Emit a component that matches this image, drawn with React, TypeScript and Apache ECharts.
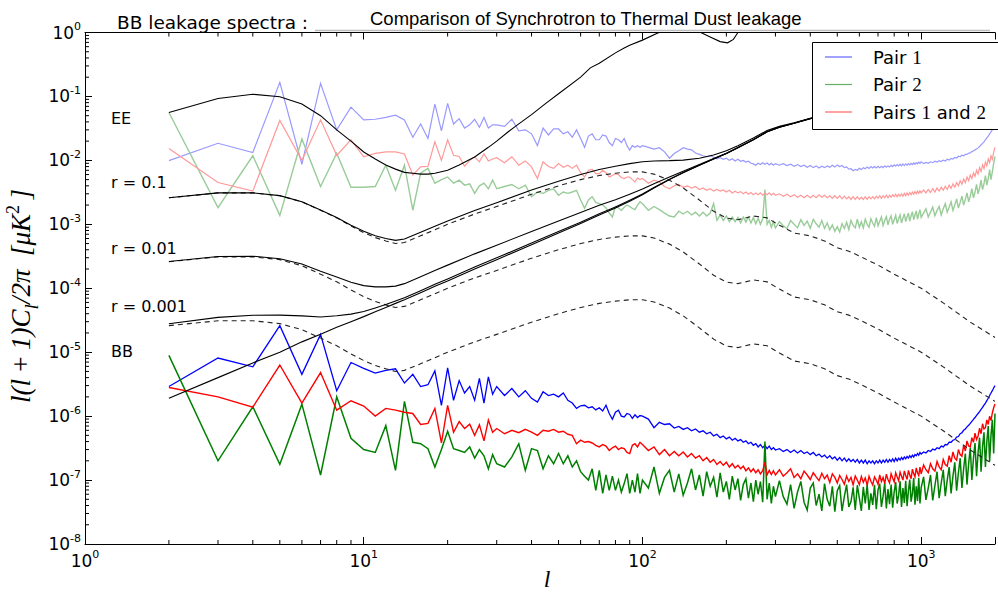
import React, { useEffect, useRef } from 'react';
import * as echarts from 'echarts';

// ---------- shared multipole grid for the measured leakage spectra ----------
const ells = [
  2,3,4,5,6,7,8,9,10,11,12,13,14,15,16,17,18,19,20,21,22,23,24,25,26,27,28,29,30,
  32,34,36,38,40,42,44,46,48,50,52,54,56,58,60,62,64,66,68,70,72,74,76,78,80,82,84,86,88,90,92,94,96,98,100,
  105,110,115,120,125,130,135,140,145,150,155,160,165,170,175,180,185,190,195,200,
  205,210,215,220,225,230,235,240,245,250,255,260,265,270,275,280,285,290,295,300,
  310,320,330,340,350,360,370,380,390,400,410,420,430,440,450,460,470,480,490,500,
  510,520,530,540,550,560,570,580,590,600,610,620,630,640,650,660,670,680,690,700,
  710,720,730,740,750,760,770,780,790,800,810,820,830,840,850,860,870,880,890,900,
  910,920,930,940,950,960,970,980,990,1000,
  1020,1040,1060,1080,1100,1120,1140,1160,1180,1200,1220,1240,1260,1280,1300,1320,1340,1360,1380,1400,
  1420,1440,1460,1480,1500,1520,1540,1560,1580,1600,1620,1640,1660,1680,1700,1720,1740,1760,1780,1800,1820,1840,
];

// BB leakage, Pair 1 (blue)
const bbPair1 = [
  2.9e-6,8.1e-6,5.9e-6,2.6e-5,4.5e-6,1.9e-5,2.5e-6,6.9e-6,5.6e-6,4.7e-6,5.2e-6,5.5e-6,3.3e-6,4.5e-6,2.9e-6,3.1e-6,5.1e-6,1.47e-6,5.7e-6,1.77e-6,3.6e-6,2.3e-6,2.9e-6,1.77e-6,3.9e-6,1.6e-6,4.1e-6,2.2e-6,2.9e-6,
  2.1e-6,2.7e-6,2.0e-6,2.5e-6,1.9e-6,1.66e-6,2.4e-6,2.1e-6,2.2e-6,2.0e-6,2.3e-6,1.77e-6,1.6e-6,1.32e-6,1.45e-6,1.48e-6,1.35e-6,1.4e-6,1.25e-6,1.35e-6,1.2e-6,1.48e-6,1.1e-6,8.9e-7,1.15e-6,1.24e-6,1.0e-6,9.7e-7,1.1e-6,1.06e-6,9.2e-7,1.05e-6,9.5e-7,1.02e-6,1.0e-6,
  9.0e-7,6.6e-7,8.0e-7,7.4e-7,7.6e-7,6.5e-7,6.9e-7,6.2e-7,6.6e-7,5.9e-7,6.3e-7,5.6e-7,5.9e-7,5.3e-7,5.6e-7,4.9e-7,5.2e-7,4.6e-7,4.9e-7,4.4e-7,
  4.7e-7,4.2e-7,4.5e-7,4.1e-7,4.3e-7,3.9e-7,4.1e-7,3.7e-7,3.9e-7,3.5e-7,3.7e-7,3.3e-7,3.6e-7,3.2e-7,3.5e-7,3.1e-7,3.4e-7,3.0e-7,3.2e-7,2.95e-7,
  3.1e-7,2.8e-7,3.0e-7,2.7e-7,2.95e-7,2.65e-7,2.9e-7,2.6e-7,2.75e-7,2.5e-7,2.7e-7,2.4e-7,2.55e-7,2.3e-7,2.45e-7,2.2e-7,2.4e-7,2.15e-7,2.3e-7,2.05e-7,
  2.25e-7,2.0e-7,2.2e-7,1.95e-7,2.15e-7,1.95e-7,2.1e-7,1.9e-7,2.1e-7,1.85e-7,2.05e-7,1.85e-7,2.05e-7,1.8e-7,2.0e-7,1.85e-7,2.0e-7,1.8e-7,2.0e-7,1.85e-7,
  2.05e-7,1.85e-7,2.05e-7,1.9e-7,2.1e-7,1.9e-7,2.1e-7,1.95e-7,2.15e-7,1.95e-7,2.2e-7,2.0e-7,2.2e-7,2.05e-7,2.25e-7,2.1e-7,2.3e-7,2.15e-7,2.35e-7,2.2e-7,
  2.4e-7,2.25e-7,2.45e-7,2.3e-7,2.5e-7,2.4e-7,2.6e-7,2.45e-7,2.7e-7,2.55e-7,
  2.75e-7,2.65e-7,2.9e-7,2.8e-7,3.05e-7,2.95e-7,3.2e-7,3.1e-7,3.4e-7,3.3e-7,3.6e-7,3.55e-7,3.9e-7,3.9e-7,4.2e-7,4.3e-7,4.7e-7,4.8e-7,5.3e-7,5.5e-7,
  6.0e-7,6.3e-7,6.8e-7,7.2e-7,7.7e-7,8.3e-7,8.9e-7,9.5e-7,1.03e-6,1.1e-6,1.18e-6,1.28e-6,1.37e-6,1.48e-6,1.6e-6,1.75e-6,1.9e-6,2.1e-6,2.3e-6,2.5e-6,2.75e-6,3.0e-6,
];

// BB leakage, Pair 2 (green)
const bbPair2 = [
  8.9e-6,2.0e-7,1.4e-6,1.77e-7,1.54e-6,1.2e-7,2.0e-6,4.5e-7,3.0e-7,2.7e-7,7.1e-7,1.42e-7,1.7e-6,3.9e-7,3.7e-7,3.1e-7,1.6e-7,3.0e-7,5.8e-7,3.1e-7,2.9e-7,2.7e-7,3.3e-7,2.2e-7,3.0e-7,2.4e-7,1.5e-7,2.5e-7,1.8e-7,
  1.6e-7,2.3e-7,3.7e-7,1.42e-7,3.1e-7,2.9e-7,1.5e-7,2.4e-7,1.8e-7,2.6e-7,1.8e-7,2.4e-7,1.6e-7,2.0e-7,1.35e-7,1.15e-7,1.0e-7,1.5e-7,6.9e-8,1.42e-7,6.2e-8,1.2e-7,6.9e-8,1.15e-7,6.9e-8,1.0e-7,6.5e-8,8.8e-8,1.26e-7,6.2e-8,1.0e-7,6.5e-8,1.26e-7,6.2e-8,1.0e-7,
  7.5e-8,1.6e-7,6.2e-8,1.1e-7,1.42e-7,6.5e-8,1.25e-7,5.8e-8,9.0e-8,1.5e-7,7.0e-8,1.2e-7,5.6e-8,1.35e-7,8.0e-8,1.1e-7,5.4e-8,1.3e-7,6.5e-8,9.5e-8,
  5.0e-8,1.15e-7,7.0e-8,1.05e-7,4.8e-8,8.5e-8,1.05e-7,5.2e-8,9.0e-8,4.6e-8,1.0e-7,6.0e-8,9.5e-8,4.5e-8,4.0e-7,5.0e-8,9.0e-8,4.3e-8,8.0e-8,5.5e-8,
  9.8e-8,5.5e-8,4.2e-8,8.5e-8,3.6e-8,6.5e-8,9.5e-8,4.5e-8,3.4e-8,7.5e-8,9.0e-8,4.0e-8,6.0e-8,3.3e-8,8.8e-8,5.0e-8,3.9e-8,8.0e-8,3.2e-8,6.8e-8,
  8.2e-8,3.3e-8,5.5e-8,8.5e-8,3.8e-8,4.6e-8,7.7e-8,3.4e-8,8.3e-8,5.2e-8,3.3e-8,7.8e-8,4.3e-8,8.6e-8,3.4e-8,6.2e-8,4.1e-8,8.4e-8,3.5e-8,7.0e-8,
  8.8e-8,3.8e-8,5.6e-8,9.0e-8,3.6e-8,7.2e-8,4.2e-8,8.5e-8,3.7e-8,6.5e-8,9.3e-8,4.3e-8,5.8e-8,9.6e-8,3.8e-8,7.5e-8,4.4e-8,9.7e-8,3.9e-8,6.8e-8,
  1.02e-7,4.6e-8,6.2e-8,1.08e-7,4.1e-8,8.0e-8,4.7e-8,1.08e-7,4.3e-8,7.6e-8,
  1.12e-7,4.9e-8,7.5e-8,1.2e-7,4.8e-8,8.2e-8,1.35e-7,5.2e-8,9.0e-8,1.45e-7,5.6e-8,1.0e-7,1.6e-7,6.2e-8,1.15e-7,1.9e-7,6.8e-8,1.3e-7,2.2e-7,7.5e-8,
  1.5e-7,2.6e-7,8.5e-8,1.8e-7,3.2e-7,1.0e-7,2.2e-7,3.8e-7,1.15e-7,2.7e-7,4.6e-7,1.35e-7,3.3e-7,5.6e-7,1.6e-7,4.0e-7,7.0e-7,1.95e-7,5.0e-7,8.8e-7,2.6e-7,1.1e-6,
];

// BB leakage, Pairs 1 and 2 (red)
const bbPairs12 = [
  2.8e-6,2.0e-6,1.38e-6,6.3e-6,1.6e-6,4.8e-6,1.24e-6,1.74e-6,1.44e-6,1.0e-6,1.32e-6,1.24e-6,1.15e-6,1.1e-6,7.4e-7,7.7e-7,1.32e-6,3.8e-7,1.47e-6,5.6e-7,8.2e-7,6.4e-7,7.5e-7,5.0e-7,7.3e-7,4.1e-7,8.7e-7,5.6e-7,6.4e-7,
  5.3e-7,6.0e-7,5.5e-7,6.2e-7,5.6e-7,5.0e-7,6.0e-7,5.8e-7,6.2e-7,5.6e-7,5.8e-7,5.2e-7,5.0e-7,3.7e-7,4.2e-7,3.9e-7,4.0e-7,3.8e-7,3.5e-7,3.3e-7,3.6e-7,3.4e-7,2.9e-7,3.2e-7,3.4e-7,3.0e-7,3.2e-7,3.1e-7,2.7e-7,2.6e-7,3.5e-7,3.7e-7,3.3e-7,3.9e-7,3.6e-7,
  2.9e-7,3.3e-7,2.5e-7,3.0e-7,2.4e-7,2.8e-7,2.4e-7,2.75e-7,2.3e-7,2.6e-7,2.2e-7,2.4e-7,2.0e-7,2.25e-7,1.9e-7,2.1e-7,1.75e-7,1.95e-7,1.7e-7,1.9e-7,
  1.6e-7,1.8e-7,1.55e-7,1.7e-7,1.5e-7,1.65e-7,1.4e-7,1.55e-7,1.35e-7,1.5e-7,1.3e-7,1.45e-7,1.25e-7,1.4e-7,1.9e-7,1.2e-7,1.42e-7,1.22e-7,1.4e-7,1.2e-7,
  1.45e-7,1.15e-7,1.3e-7,1.5e-7,1.1e-7,1.25e-7,1.05e-7,1.38e-7,1.2e-7,1.02e-7,1.3e-7,1.12e-7,9.8e-8,1.28e-7,1.05e-7,1.2e-7,9.2e-8,1.25e-7,1.1e-7,9.0e-8,
  1.18e-7,1.02e-7,8.6e-8,1.15e-7,9.5e-8,1.1e-7,8.4e-8,1.16e-7,1.0e-7,8.5e-8,1.14e-7,9.2e-8,1.08e-7,8.3e-8,1.15e-7,9.6e-8,8.4e-8,1.12e-7,1.0e-7,8.6e-8,
  1.2e-7,9.5e-8,1.1e-7,8.8e-8,1.24e-7,1.02e-7,9.0e-8,1.26e-7,1.08e-7,9.4e-8,1.3e-7,1.12e-7,9.8e-8,1.33e-7,1.15e-7,1.0e-7,1.39e-7,1.18e-7,1.02e-7,1.42e-7,
  1.2e-7,1.05e-7,1.48e-7,1.25e-7,1.12e-7,1.55e-7,1.3e-7,1.18e-7,1.6e-7,1.25e-7,
  1.72e-7,1.45e-7,1.3e-7,1.8e-7,1.5e-7,1.38e-7,1.95e-7,1.6e-7,1.45e-7,2.1e-7,1.75e-7,1.65e-7,2.4e-7,1.9e-7,2.75e-7,2.2e-7,2.05e-7,3.0e-7,2.5e-7,2.35e-7,
  3.5e-7,2.85e-7,4.1e-7,3.4e-7,3.3e-7,4.6e-7,3.9e-7,5.4e-7,4.3e-7,4.9e-7,6.5e-7,5.3e-7,7.6e-7,6.3e-7,6.6e-7,8.7e-7,7.4e-7,1.0e-6,8.5e-7,1.12e-6,1.35e-6,1.55e-6,
];

// EE leakage (faint), Pair 1
const eePair1 = [
  9.9e-3,1.85e-2,1.33e-2,0.166,8.7e-3,0.16,0.030,0.068,0.043,0.044,0.047,0.051,0.043,0.023,0.037,0.022,0.076,0.029,0.078,0.037,0.045,0.032,0.036,0.044,0.033,0.047,0.032,0.036,0.036,
  0.034,0.044,0.029,0.030,0.026,0.017,0.032,0.025,0.031,0.031,0.026,0.028,0.023,0.030,0.022,0.016,0.024,0.026,0.021,0.021,0.025,0.024,0.019,0.017,0.022,0.021,0.019,0.022,0.017,0.0145,0.017,0.016,0.017,0.016,0.017,
  0.016,0.015,0.0158,0.0136,0.0108,0.0128,0.0142,0.0158,0.015,0.0146,0.013,0.0124,0.0118,0.0114,0.0118,0.0112,0.0106,0.011,0.0104,0.0108,
  0.01,0.0106,0.0098,0.0104,0.0097,0.01,0.0094,0.0097,0.009,0.0088,0.0084,0.009,0.0086,0.0092,0.0087,0.0091,0.0085,0.009,0.0084,0.0089,
  0.0084,0.0089,0.0083,0.0087,0.0081,0.0086,0.0080,0.0084,0.0078,0.0083,0.0077,0.0082,0.0076,0.0081,0.0077,0.0082,0.0078,0.0084,0.0079,0.0085,
  0.0080,0.0083,0.0077,0.0079,0.0073,0.0074,0.0069,0.0072,0.0070,0.0075,0.0072,0.0077,0.0074,0.0079,0.0075,0.0080,0.0076,0.0080,0.0076,0.0081,
  0.0077,0.0081,0.0077,0.0082,0.0078,0.0082,0.0079,0.0084,0.0080,0.0085,0.0081,0.0086,0.0082,0.0087,0.0082,0.0088,0.0083,0.0088,0.0084,0.0089,
  0.0085,0.0090,0.0086,0.0091,0.0087,0.0092,0.0088,0.0094,0.0090,0.0095,
  0.0089,0.0093,0.0090,0.0095,0.0092,0.0097,0.0094,0.0099,0.0096,0.0101,0.0098,0.0104,0.0101,0.0107,0.0105,0.0111,0.0109,0.0116,0.0114,0.0121,
  0.0118,0.0124,0.0124,0.013,0.0131,0.0137,0.014,0.0146,0.015,0.0157,0.0165,0.0175,0.0185,0.0195,0.021,0.0225,0.024,0.026,0.028,0.030,0.032,0.034,
];

// EE leakage (faint), Pair 2
const eePair2 = [
  0.056,1.83e-3,0.0118,1.38e-3,0.0216,3.9e-3,0.0129,3.8e-3,3.8e-3,3.9e-3,8.4e-3,3.4e-3,8.4e-3,1.66e-3,6.3e-3,7.5e-3,4.4e-3,5.0e-3,5.5e-3,4.4e-3,4.9e-3,4.1e-3,4.3e-3,3.05e-3,4.0e-3,4.4e-3,3.6e-3,4.9e-3,3.6e-3,
  3.9e-3,4.2e-3,3.6e-3,4.1e-3,2.7e-3,3.2e-3,3.05e-3,3.4e-3,3.6e-3,2.85e-3,3.2e-3,3.05e-3,3.2e-3,3.4e-3,2.4e-3,1.78e-3,2.4e-3,2.7e-3,2.2e-3,2.1e-3,2.0e-3,1.8e-3,1.5e-3,1.3e-3,1.9e-3,1.8e-3,1.66e-3,1.85e-3,2.0e-3,1.9e-3,1.78e-3,1.7e-3,2.0e-3,2.25e-3,2.1e-3,
  1.66e-3,1.9e-3,1.7e-3,1.5e-3,1.35e-3,1.3e-3,1.6e-3,1.45e-3,1.6e-3,1.4e-3,1.55e-3,1.35e-3,1.55e-3,1.35e-3,1.5e-3,2.1e-3,1.15e-3,1.4e-3,1.15e-3,1.35e-3,
  1.1e-3,1.3e-3,1.1e-3,1.28e-3,1.05e-3,1.3e-3,1.08e-3,1.3e-3,1.05e-3,1.28e-3,1.02e-3,1.25e-3,1.0e-3,1.22e-3,3.5e-3,1.0e-3,1.15e-3,9.0e-4,1.1e-3,8.8e-4,
  1.1e-3,9.5e-4,8.6e-4,1.15e-3,1.0e-3,8.8e-4,1.18e-3,9.6e-4,1.12e-3,8.7e-4,1.2e-3,1.02e-3,9.0e-4,1.15e-3,8.6e-4,1.05e-3,8.2e-4,9.8e-4,7.8e-4,9.2e-4,
  7.6e-4,1.02e-3,8.6e-4,1.08e-3,8.3e-4,1.15e-3,9.6e-4,8.8e-4,1.2e-3,9.0e-4,1.1e-3,8.8e-4,1.2e-3,1.0e-3,9.0e-4,1.22e-3,1.05e-3,9.3e-4,1.27e-3,9.5e-4,
  1.12e-3,1.3e-3,9.6e-4,1.15e-3,1.32e-3,9.8e-4,1.2e-3,1.36e-3,1.0e-3,1.18e-3,1.38e-3,1.03e-3,1.22e-3,1.4e-3,1.05e-3,1.25e-3,1.46e-3,1.1e-3,1.3e-3,1.5e-3,
  1.12e-3,1.35e-3,1.58e-3,1.18e-3,1.4e-3,1.62e-3,1.2e-3,1.45e-3,1.7e-3,1.28e-3,
  1.5e-3,1.75e-3,1.3e-3,1.55e-3,1.85e-3,1.36e-3,1.65e-3,1.9e-3,1.4e-3,1.75e-3,2.1e-3,1.55e-3,1.85e-3,2.25e-3,1.65e-3,2.0e-3,2.5e-3,1.8e-3,2.2e-3,2.75e-3,
  2.0e-3,2.45e-3,3.1e-3,2.25e-3,2.75e-3,3.6e-3,2.6e-3,3.2e-3,4.2e-3,3.0e-3,3.7e-3,4.9e-3,3.5e-3,4.3e-3,5.8e-3,4.1e-3,5.2e-3,7.2e-3,5.0e-3,6.6e-3,9.0e-3,0.0115,
];

// EE leakage (faint), Pairs 1 and 2
const eePairs12 = [
  0.0154,4.5e-3,3.3e-3,0.042,0.010,0.043,0.012,0.021,0.0114,0.0129,0.0136,0.0136,0.0126,5.9e-3,7.9e-3,8.1e-3,0.0195,0.010,0.021,0.012,0.0115,8.1e-3,0.010,0.0114,9.5e-3,0.0126,9.8e-3,0.0105,0.011,
  9.2e-3,0.0114,8.4e-3,9.8e-3,7.9e-3,5.2e-3,9.5e-3,8.0e-3,7.5e-3,8.9e-3,7.8e-3,8.4e-3,7.5e-3,8.4e-3,6.4e-3,5.5e-3,7.0e-3,7.2e-3,6.2e-3,6.2e-3,7.0e-3,6.4e-3,5.5e-3,5.8e-3,6.2e-3,6.0e-3,5.4e-3,5.2e-3,5.5e-3,5.5e-3,5.0e-3,4.6e-3,5.3e-3,5.0e-3,5.2e-3,
  4.4e-3,4.9e-3,4.6e-3,3.9e-3,3.6e-3,4.0e-3,4.2e-3,3.8e-3,4.0e-3,3.7e-3,3.9e-3,3.5e-3,3.7e-3,3.4e-3,3.6e-3,3.3e-3,3.5e-3,3.3e-3,3.45e-3,3.2e-3,
  3.4e-3,3.1e-3,3.3e-3,3.1e-3,3.25e-3,3.0e-3,3.2e-3,2.95e-3,3.15e-3,2.9e-3,3.1e-3,2.9e-3,3.1e-3,2.85e-3,3.05e-3,2.9e-3,3.1e-3,2.85e-3,3.05e-3,2.85e-3,
  3.0e-3,2.75e-3,2.95e-3,2.7e-3,2.9e-3,2.65e-3,2.85e-3,2.6e-3,2.85e-3,2.6e-3,2.85e-3,2.6e-3,2.9e-3,2.65e-3,2.85e-3,2.6e-3,2.8e-3,2.55e-3,2.8e-3,2.55e-3,
  2.8e-3,2.5e-3,2.75e-3,2.5e-3,2.7e-3,2.45e-3,2.7e-3,2.45e-3,2.7e-3,2.45e-3,2.65e-3,2.45e-3,2.7e-3,2.45e-3,2.7e-3,2.5e-3,2.7e-3,2.5e-3,2.75e-3,2.55e-3,
  2.8e-3,2.55e-3,2.8e-3,2.6e-3,2.85e-3,2.6e-3,2.85e-3,2.65e-3,2.9e-3,2.7e-3,2.95e-3,2.7e-3,2.95e-3,2.75e-3,3.0e-3,2.75e-3,3.05e-3,2.8e-3,3.1e-3,2.85e-3,
  3.15e-3,2.9e-3,3.2e-3,2.95e-3,3.25e-3,3.0e-3,3.3e-3,3.05e-3,3.35e-3,3.1e-3,
  3.45e-3,3.1e-3,3.5e-3,3.15e-3,3.6e-3,3.2e-3,3.7e-3,3.3e-3,3.8e-3,3.4e-3,3.95e-3,3.5e-3,4.1e-3,3.65e-3,4.3e-3,3.8e-3,4.5e-3,4.0e-3,4.8e-3,4.25e-3,
  5.1e-3,4.5e-3,5.5e-3,4.8e-3,5.9e-3,5.2e-3,6.4e-3,5.6e-3,7.0e-3,6.1e-3,7.7e-3,6.7e-3,8.5e-3,7.4e-3,9.4e-3,8.2e-3,0.0105,9.2e-3,0.0118,0.0104,0.0135,0.016,
];

// ---------- theory spectra ----------
const eeL = [2,3,4,5,6,7,8,9,10,11,12,13,14,15,16,17,18,20,22,25,28,30,33,35,40,45,50,60,65,70,80,86,90,100,113,130,150,162,175,190,202,212,220,240,300];
const eeTheory = [0.056,0.093,0.108,0.099,0.076,0.050,0.030,0.020,0.0135,0.0105,0.0085,0.0073,0.0065,0.0063,0.0061,0.0061,0.0063,0.0070,0.0085,0.0113,0.016,0.020,0.028,0.034,0.052,0.078,0.11,0.20,0.28,0.33,0.48,0.57,0.63,0.76,0.97,1.25,1.3,1.0,0.85,0.72,0.69,0.78,1.0,1.5,2.5];

const bbL = [2,3,4,5,6,7,8,9,10,11,12,13,14,16,18,20,25,30,40,50,60,70,80,90,100,110,125,140,160,180,200,220,250,280,310,350,400,450,500,550,600,700,800,1000,1200,1500,1840];
const r01Prim = [2.6e-3,3.1e-3,3.1e-3,2.8e-3,2.25e-3,1.66e-3,1.26e-3,9.4e-4,7.4e-4,6.2e-4,5.5e-4,5.0e-4,5.2e-4,6.6e-4,8.2e-4,1.0e-3,1.45e-3,1.9e-3,2.95e-3,4.0e-3,5.0e-3,5.8e-3,6.3e-3,6.6e-3,6.6e-3,6.1e-3,4.9e-3,3.7e-3,2.4e-3,1.6e-3,1.25e-3,1.18e-3,1.35e-3,1.26e-3,9.7e-4,7.3e-4,6.6e-4,5.5e-4,4.3e-4,3.8e-4,3.2e-4,2.3e-4,1.66e-4,1.0e-4,5.9e-5,2.95e-5,1.7e-5];
const r001Prim = [2.6e-4,3.1e-4,3.1e-4,2.8e-4,2.25e-4,1.66e-4,1.26e-4,9.4e-5,7.4e-5,6.2e-5,5.5e-5,5.0e-5,5.2e-5,6.6e-5,8.2e-5,1.0e-4,1.45e-4,1.9e-4,2.95e-4,4.0e-4,5.0e-4,5.8e-4,6.3e-4,6.6e-4,6.6e-4,6.1e-4,4.9e-4,3.7e-4,2.4e-4,1.6e-4,1.25e-4,1.18e-4,1.35e-4,1.26e-4,9.7e-5,7.3e-5,6.6e-5,5.5e-5,4.3e-5,3.8e-5,3.2e-5,2.3e-5,1.66e-5,1.0e-5,5.9e-6,2.95e-6,1.7e-6];
const r0001Prim = [2.6e-5,3.1e-5,3.1e-5,2.8e-5,2.25e-5,1.66e-5,1.26e-5,9.4e-6,7.4e-6,6.2e-6,5.5e-6,5.0e-6,5.2e-6,6.6e-6,8.2e-6,1.0e-5,1.45e-5,1.9e-5,2.95e-5,4.0e-5,5.0e-5,5.8e-5,6.3e-5,6.6e-5,6.6e-5,6.1e-5,4.9e-5,3.7e-5,2.4e-5,1.6e-5,1.25e-5,1.18e-5,1.35e-5,1.26e-5,9.7e-6,7.3e-6,6.6e-6,5.5e-6,4.3e-6,3.8e-6,3.2e-6,2.3e-6,1.66e-6,1.0e-6,5.9e-7,2.95e-7,1.7e-7];
const lensBB = [1.9e-6,4.0e-6,6.8e-6,1.0e-5,1.45e-5,1.9e-5,2.45e-5,3.0e-5,3.6e-5,4.3e-5,5.0e-5,5.8e-5,6.6e-5,8.5e-5,1.07e-4,1.3e-4,2.0e-4,2.8e-4,4.8e-4,7.3e-4,1.03e-3,1.4e-3,1.8e-3,2.3e-3,2.9e-3,3.7e-3,5.0e-3,6.4e-3,8.4e-3,0.0105,0.0128,0.0158,0.021,0.028,0.033,0.038,0.045,0.050,0.055,0.059,0.063,0.070,0.076,0.086,0.093,0.10,0.107];
const r01Total = [2.6e-3,3.1e-3,3.11e-3,2.81e-3,2.26e-3,1.68e-3,1.28e-3,9.7e-4,7.8e-4,6.6e-4,6.0e-4,5.6e-4,5.9e-4,7.5e-4,9.3e-4,1.13e-3,1.65e-3,2.18e-3,3.43e-3,4.73e-3,6.0e-3,7.2e-3,8.1e-3,8.9e-3,9.5e-3,9.8e-3,9.9e-3,0.0101,0.0108,0.0121,0.0141,0.017,0.0224,0.0293,0.034,0.0387,0.0457,0.0506,0.0554,0.0594,0.0633,0.0702,0.0762,0.0861,0.0931,0.10,0.107];
const r001Total = [2.62e-4,3.14e-4,3.17e-4,2.9e-4,2.4e-4,1.85e-4,1.5e-4,1.24e-4,1.1e-4,1.05e-4,1.05e-4,1.08e-4,1.18e-4,1.51e-4,1.89e-4,2.3e-4,3.45e-4,4.7e-4,7.75e-4,1.13e-3,1.53e-3,1.98e-3,2.43e-3,2.96e-3,3.56e-3,4.31e-3,5.49e-3,6.77e-3,8.64e-3,0.0107,0.0129,0.0159,0.0211,0.0281,0.0331,0.0381,0.0451,0.0501,0.055,0.059,0.063,0.070,0.076,0.086,0.093,0.10,0.107];
const r0001Total = [2.79e-5,3.5e-5,3.78e-5,3.8e-5,3.7e-5,3.56e-5,3.71e-5,3.94e-5,4.34e-5,4.92e-5,5.55e-5,6.3e-5,7.12e-5,9.16e-5,1.15e-4,1.4e-4,2.15e-4,2.99e-4,5.1e-4,7.7e-4,1.08e-3,1.46e-3,1.86e-3,2.37e-3,2.97e-3,3.76e-3,5.05e-3,6.44e-3,8.42e-3,0.0105,0.0128,0.0158,0.021,0.028,0.033,0.038,0.045,0.050,0.055,0.059,0.063,0.070,0.076,0.086,0.093,0.10,0.107];

// ---------- axes ----------
const xMin = 1;
const xMax = 1840;
const yMin = 1e-8;
const yMax = 1;
const minorMultipliers = [2, 3, 4, 5, 6, 7, 8, 9];
const xDecades = [1, 10, 100, 1000];
const yDecades = [1e-8, 1e-7, 1e-6, 1e-5, 1e-4, 1e-3, 1e-2, 1e-1];

const curveLabels = [
  { text: 'EE', y: 118 },
  { text: 'r = 0.1', y: 182 },
  { text: 'r = 0.01', y: 248 },
  { text: 'r = 0.001', y: 306 },
  { text: 'BB', y: 351 },
];
const legendItems = [
  { name: 'Pair', num: '1', color: '#6464ff' },
  { name: 'Pair', num: '2', color: '#64b064' },
  { name: 'Pairs', num: '1', tail: ' and ', num2: '2', color: '#ff6464' },
];

const pts = (xs: number[], ys: number[]) => xs.map((x, i) => [x, ys[i]]);

const SANS = 'DejaVu Sans';
const SERIF = 'Liberation Serif';
const THIN = '\u2009';
const EN = '\u2002';

function powLabel(v: number) {
  const e = Math.log10(v);
  const r = Math.round(e);
  if (Math.abs(e - r) > 1e-6) return '';
  return `{b|10}{sup|${r}}`;
}

const labelRich = {
  b: { fontSize: 17, lineHeight: 17, fontFamily: SANS, color: '#000', verticalAlign: 'bottom' },
  sup: { fontSize: 11, lineHeight: 11, fontFamily: SANS, color: '#000', padding: [0, 0, 9, 0], verticalAlign: 'bottom' },
};

function lineSeries(name: string, xs: number[], ys: number[], color: string, width: number, z: number, dashed = false) {
  return {
    name,
    type: 'line',
    data: pts(xs, ys),
    showSymbol: false,
    symbol: 'none',
    silent: true,
    clip: true,
    z,
    lineStyle: { color, width, type: dashed ? [5, 4] : 'solid', cap: 'butt', join: 'miter' },
  };
}

export default function App() {
  const ref = useRef<HTMLDivElement>(null);
  useEffect(() => {
    const chart = echarts.init(ref.current!, null, { renderer: 'svg' });

    const minorX: number[] = [];
    xDecades.forEach((d) => minorMultipliers.forEach((m) => { if (d * m < xMax) minorX.push(d * m); }));
    const minorY: number[] = [];
    yDecades.forEach((d) => minorMultipliers.forEach((m) => minorY.push(d * m)));

    const legendGraphics: any[] = [
      { type: 'rect', shape: { x: 812.5, y: 42.5, width: 190, height: 87 }, style: { fill: '#fff', stroke: '#000', lineWidth: 1 }, z: 100 },
    ];
    legendItems.forEach((it, i) => {
      const y = 57 + i * 27.5;
      legendGraphics.push({ type: 'line', shape: { x1: 825, y1: y, x2: 852, y2: y }, style: { stroke: it.color, lineWidth: 1.2 }, z: 101 });
      const txt = it.num2 ? `${it.name} {m|${it.num}}${it.tail}{m|${it.num2}}` : `${it.name} {m|${it.num}}`;
      legendGraphics.push({
        type: 'text', x: 873, y, z: 101,
        style: {
          text: txt, fill: '#000', fontSize: 18, fontFamily: SANS,
          align: 'left', verticalAlign: 'middle', textAlign: 'left', textVerticalAlign: 'middle',
          rich: { m: { fontSize: 19, fontFamily: SERIF, fill: '#000' } },
        },
      });
    });

    const option: any = {
      animation: false,
      backgroundColor: '#fff',
      grid: { left: 85, right: 0, top: 32.5, bottom: 48, containLabel: false },
      xAxis: [
        {
          type: 'log', logBase: 10, min: xMin, max: xMax, splitNumber: 3,
          axisLine: { show: true, lineStyle: { color: '#000', width: 1 } },
          axisTick: { show: true, inside: true, length: 7, lineStyle: { color: '#000', width: 1 } },
          axisLabel: { show: true, margin: 8, formatter: powLabel, rich: labelRich, showMinLabel: true, showMaxLabel: true },
          splitLine: { show: false },
        },
        {
          type: 'log', logBase: 10, min: xMin, max: xMax, splitNumber: 3, position: 'top',
          axisLine: { show: true, lineStyle: { color: '#000', width: 1 } },
          axisTick: { show: true, inside: true, length: 7, lineStyle: { color: '#000', width: 1 } },
          axisLabel: { show: false },
          splitLine: { show: false },
        },
      ],
      yAxis: {
        type: 'log', logBase: 10, min: yMin, max: yMax, splitNumber: 8,
        axisLine: { show: true, lineStyle: { color: '#000', width: 1 } },
        axisTick: { show: true, inside: true, length: 7, lineStyle: { color: '#000', width: 1 } },
        axisLabel: { show: true, margin: 4, formatter: powLabel, rich: labelRich, showMinLabel: true, showMaxLabel: true },
        splitLine: { show: false },
      },
      graphic: [
        { type: 'line', shape: { x1: 315, y1: 30.5, x2: 990, y2: 30.5 }, style: { stroke: '#bdbdbd', lineWidth: 1.5 }, z: 50 },
        {
          type: 'text', x: 117, y: 22, z: 60,
          style: { text: 'BB leakage spectra :', fill: '#000', fontSize: 18.5, fontFamily: SANS, align: 'left', verticalAlign: 'middle', textAlign: 'left', textVerticalAlign: 'middle' },
        },
        {
          type: 'text', x: 370, y: 18.5, z: 60,
          style: { text: 'Comparison of Synchrotron to Thermal Dust leakage', fill: '#000', fontSize: 18.5, fontFamily: 'Liberation Sans', align: 'left', verticalAlign: 'middle', textAlign: 'left', textVerticalAlign: 'middle' },
        },
        ...curveLabels.map((c) => ({
          type: 'text', x: 111, y: c.y, z: 60,
          style: { text: c.text, fill: '#000', fontSize: 16, fontFamily: SANS, align: 'left', verticalAlign: 'middle', textAlign: 'left', textVerticalAlign: 'middle' },
        })),
        {
          type: 'text', x: 27, y: 296, rotation: Math.PI / 2, z: 60,
          style: {
            text: `{i|l(l${THIN}+${THIN}1)C}{sub|l}{i|/2π${EN}[μK}{sup|2}{i|${THIN}]}`,
            fill: '#000', fontSize: 27, fontFamily: SERIF, fontStyle: 'italic',
            align: 'center', verticalAlign: 'middle', textAlign: 'center', textVerticalAlign: 'middle',
            rich: {
              i: { fontSize: 27, lineHeight: 27, fontFamily: SERIF, fontStyle: 'italic', fill: '#000', padding: [0, 0, 6, 0], verticalAlign: 'bottom' },
              sub: { fontSize: 19, lineHeight: 19, fontFamily: SERIF, fontStyle: 'italic', fill: '#000', verticalAlign: 'bottom' },
              sup: { fontSize: 18, lineHeight: 18, fontFamily: SERIF, fill: '#000', padding: [0, 0, 19, 0], verticalAlign: 'bottom' },
            },
          },
        },
        {
          type: 'text', x: 547, y: 591, z: 60,
          style: { text: 'l', fill: '#000', fontSize: 24, fontFamily: SERIF, fontStyle: 'italic', align: 'center', verticalAlign: 'bottom', textAlign: 'center', textVerticalAlign: 'bottom' },
        },
        ...legendGraphics,
      ],
      series: [
        lineSeries('EE Pair 1', ells, eePair1, '#9999ff', 1.2, 2),
        lineSeries('EE Pair 2', ells, eePair2, '#99cc99', 1.4, 2),
        lineSeries('EE Pairs 1 and 2', ells, eePairs12, '#ff9999', 1.2, 2),
        lineSeries('Pair 1', ells, bbPair1, '#0000ff', 1.3, 3),
        lineSeries('Pair 2', ells, bbPair2, '#008000', 1.5, 3),
        lineSeries('Pairs 1 and 2', ells, bbPairs12, '#ff0000', 1.4, 3),
        lineSeries('EE theory', eeL, eeTheory, '#000', 1.1, 4),
        lineSeries('r=0.1 primordial', bbL, r01Prim, '#222', 1.1, 4, true),
        lineSeries('r=0.01 primordial', bbL, r001Prim, '#222', 1.1, 4, true),
        lineSeries('r=0.001 primordial', bbL, r0001Prim, '#222', 1.1, 4, true),
        lineSeries('lensing', bbL, lensBB, '#000', 1.1, 4),
        lineSeries('r=0.1 total', bbL, r01Total, '#000', 1.1, 4),
        lineSeries('r=0.01 total', bbL, r001Total, '#000', 1.1, 4),
        lineSeries('r=0.001 total', bbL, r0001Total, '#000', 1.1, 4),
        {
          type: 'custom', name: 'xminor', silent: true, clip: false, z: 5,
          data: minorX.map((l) => [l, yMin]),
          renderItem: (_p: any, api: any) => {
            const b = api.coord([api.value(0), yMin]);
            const t = api.coord([api.value(0), yMax]);
            return {
              type: 'group',
              children: [
                { type: 'line', shape: { x1: b[0], y1: b[1], x2: b[0], y2: b[1] - 4 }, style: { stroke: '#000', lineWidth: 1 } },
                { type: 'line', shape: { x1: t[0], y1: t[1], x2: t[0], y2: t[1] + 4 }, style: { stroke: '#000', lineWidth: 1 } },
              ],
            };
          },
        },
        {
          type: 'custom', name: 'yminor', silent: true, clip: false, z: 5,
          data: minorY.map((v) => [xMin, v]),
          renderItem: (_p: any, api: any) => {
            const p = api.coord([xMin, api.value(1)]);
            return { type: 'line', shape: { x1: p[0], y1: p[1], x2: p[0] + 4, y2: p[1] }, style: { stroke: '#000', lineWidth: 1 } };
          },
        },
      ],
    };
    chart.setOption(option);
    return () => chart.dispose();
  }, []);
  return <div ref={ref} style={{ position: 'absolute', left: 0, top: 0, width: 998, height: 592, background: '#fff' }} />;
}
